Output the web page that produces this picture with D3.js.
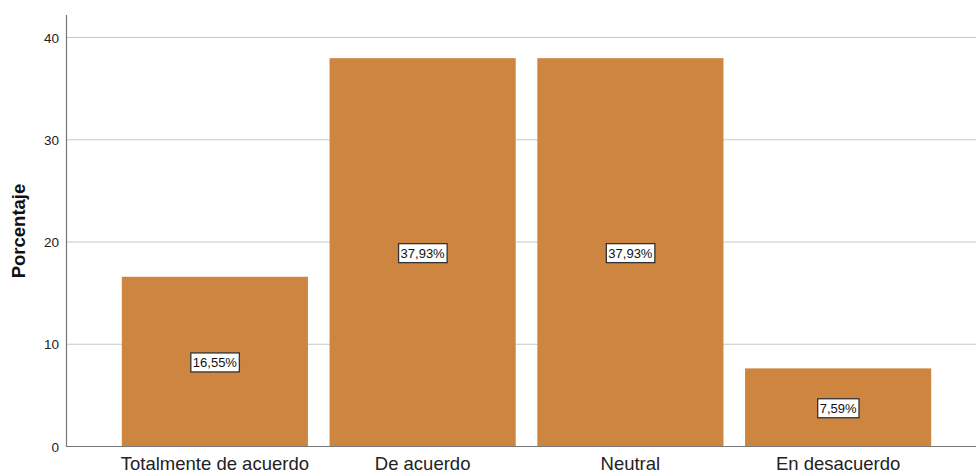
<!DOCTYPE html>
<html>
<head>
<meta charset="utf-8">
<script src="https://cdn.jsdelivr.net/npm/d3@7"></script>
<style>
  body { margin: 0; background: #fff; }
  svg { display: block; font-family: "Liberation Sans", Arial, sans-serif; }
</style>
</head>
<body>
<div id="chart"></div>
<script>
// Chart data
const categories = ["Totalmente de acuerdo", "De acuerdo", "Neutral", "En desacuerdo"];
const percentages = [16.55, 37.93, 37.93, 7.59];
const yTicks = [0, 10, 20, 30, 40];

const width = 976, height = 474;
const svg = d3.select("#chart").append("svg")
    .attr("width", width)
    .attr("height", height);

const axisX = 66;
const xScale = d3.scaleBand()
    .domain(categories)
    .range([111, 942])
    .paddingInner(0.104)
    .paddingOuter(0.052);
const yScale = d3.scaleLinear().domain([0, 40]).range([446, 37]);

// Grid lines
svg.selectAll(".grid")
    .data(yTicks.filter(d => d > 0))
    .enter()
    .append("line")
    .attr("x1", axisX)
    .attr("x2", width)
    .attr("y1", d => yScale(d) + 0.5)
    .attr("y2", d => yScale(d) + 0.5)
    .attr("stroke", "#c8c8c8")
    .attr("stroke-width", 1);

// Bars
svg.selectAll(".bar")
    .data(percentages)
    .enter()
    .append("rect")
    .attr("x", (d, i) => xScale(categories[i]))
    .attr("y", d => yScale(d))
    .attr("width", xScale.bandwidth())
    .attr("height", d => yScale(0) - yScale(d))
    .attr("fill", "#cd853f");

// Axes lines
svg.append("line")
    .attr("x1", axisX + 0.5).attr("x2", axisX + 0.5)
    .attr("y1", 15).attr("y2", yScale(0))
    .attr("stroke", "#777").attr("stroke-width", 1.2);
svg.append("line")
    .attr("x1", axisX).attr("x2", width)
    .attr("y1", yScale(0) + 0.5).attr("y2", yScale(0) + 0.5)
    .attr("stroke", "#777").attr("stroke-width", 1.2);

// Y tick labels
svg.selectAll(".ytick")
    .data(yTicks)
    .enter()
    .append("text")
    .attr("x", axisX - 7)
    .attr("y", d => yScale(d) + 1)
    .attr("dy", "0.35em")
    .attr("text-anchor", "end")
    .attr("font-size", 13.5)
    .attr("fill", "#222")
    .text(d => d);

// Y axis title
svg.append("text")
    .attr("transform", "translate(25,231) rotate(-90)")
    .attr("text-anchor", "middle")
    .attr("font-size", 18.5)
    .attr("font-weight", "bold")
    .attr("fill", "#111")
    .text("Porcentaje");

// Category labels
svg.selectAll(".xlabel")
    .data(categories)
    .enter()
    .append("text")
    .attr("x", d => xScale(d) + xScale.bandwidth() / 2)
    .attr("y", 470)
    .attr("text-anchor", "middle")
    .attr("font-size", 18.5)
    .attr("fill", "#222")
    .text(d => d);

// Value labels in boxes
const labels = svg.selectAll(".vlabel")
    .data(percentages)
    .enter()
    .append("g")
    .attr("transform", (d, i) => `translate(${xScale(categories[i]) + xScale.bandwidth() / 2},${yScale(d / 2) + 1})`);

labels.append("text")
    .attr("text-anchor", "middle")
    .attr("dy", "0.35em")
    .attr("font-size", 13)
    .attr("fill", "#111")
    .text(d => d.toFixed(2).replace(".", ",") + "%")
    .each(function () {
        const bb = this.getBBox();
        d3.select(this.parentNode).insert("rect", "text")
            .attr("x", bb.x - 2)
            .attr("y", bb.y - 2)
            .attr("width", bb.width + 4)
            .attr("height", bb.height + 4)
            .attr("fill", "#fff")
            .attr("stroke", "#333")
            .attr("stroke-width", 1.3);
    });
</script>
</body>
</html>
